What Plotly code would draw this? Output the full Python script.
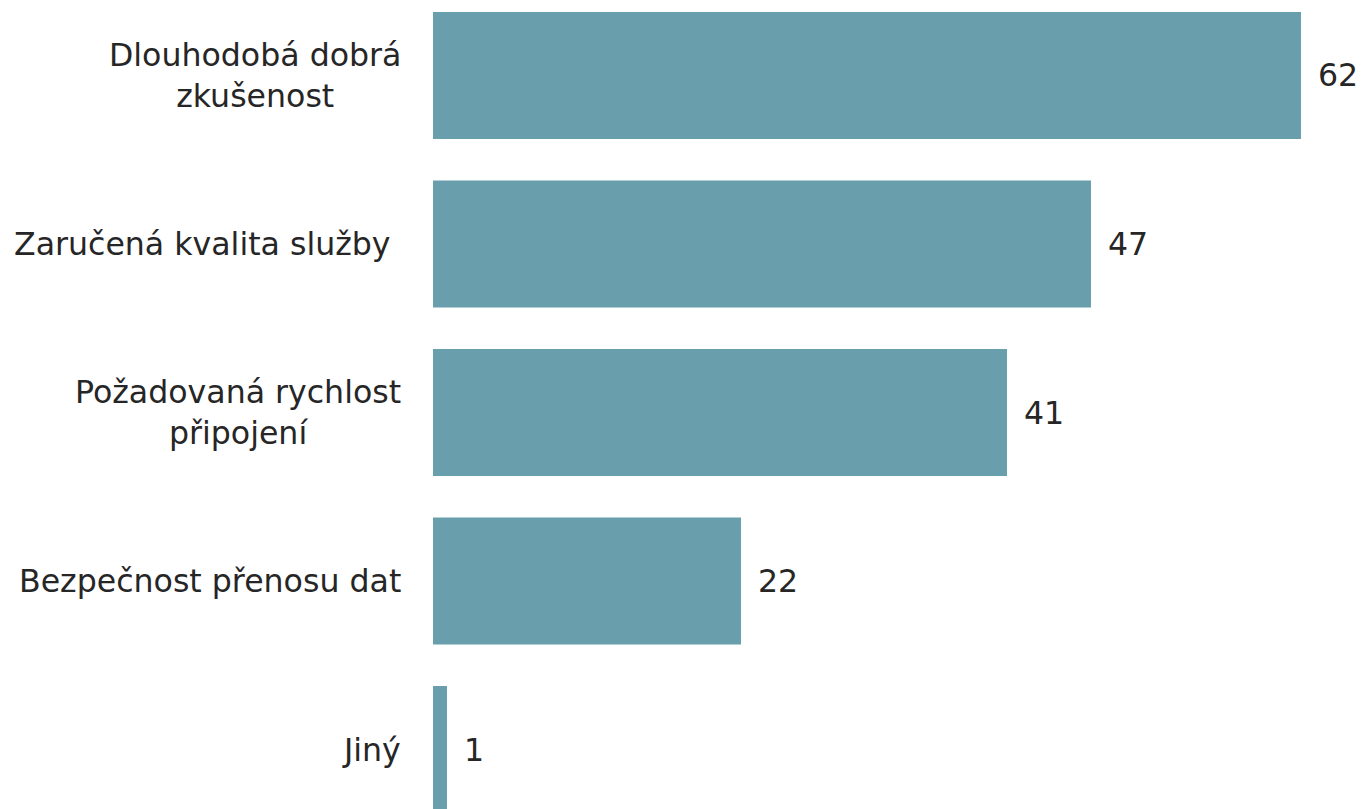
import plotly.graph_objects as go

categories = ["Dlouhodobá dobrá<br>zkušenost", "Zaručená kvalita služby\u00a0",
              "Požadovaná rychlost<br>připojení", "Bezpečnost přenosu dat", "Jiný"]
values = [62, 47, 41, 22, 1]
value_labels = ["62", "47", "41", "22", "1"]

BAR_COLOR = "#699fad"
TEXT_COLOR = "#262626"
FONT = "DejaVu Sans, Verdana, sans-serif"
FS = 31.6

fig = go.Figure(go.Bar(
    y=categories, x=values, orientation="h",
    marker=dict(color=BAR_COLOR, line=dict(width=0)),
    hoverinfo="skip",
))

annotations = []
for c in categories:
    annotations.append(dict(
        xref="paper", x=0, yref="y", y=c, text=c, showarrow=False,
        xanchor="right", yanchor="middle", align="center", xshift=-30,
        font=dict(family=FONT, size=FS, color=TEXT_COLOR)))
for c, v, t in zip(categories, values, value_labels):
    annotations.append(dict(
        xref="x", x=v, yref="y", y=c, text=t, showarrow=False,
        xanchor="left", yanchor="middle", xshift=15,
        font=dict(family=FONT, size=FS, color=TEXT_COLOR)))

fig.update_layout(
    width=1363, height=809,
    margin=dict(l=433, r=0, t=0, b=0),
    paper_bgcolor="white", plot_bgcolor="white",
    bargap=0.246,
    showlegend=False,
    xaxis=dict(range=[0, 66.43], visible=False, fixedrange=True),
    yaxis=dict(type="category", categoryorder="array", categoryarray=categories,
               range=[4.353, -0.448], showticklabels=False, showgrid=False,
               zeroline=False, showline=False, fixedrange=True),
    annotations=annotations,
)

fig.write_html("out.html", config={"displayModeBar": False},
               post_script="document.body.style.margin='0';document.body.style.overflow='hidden';")
